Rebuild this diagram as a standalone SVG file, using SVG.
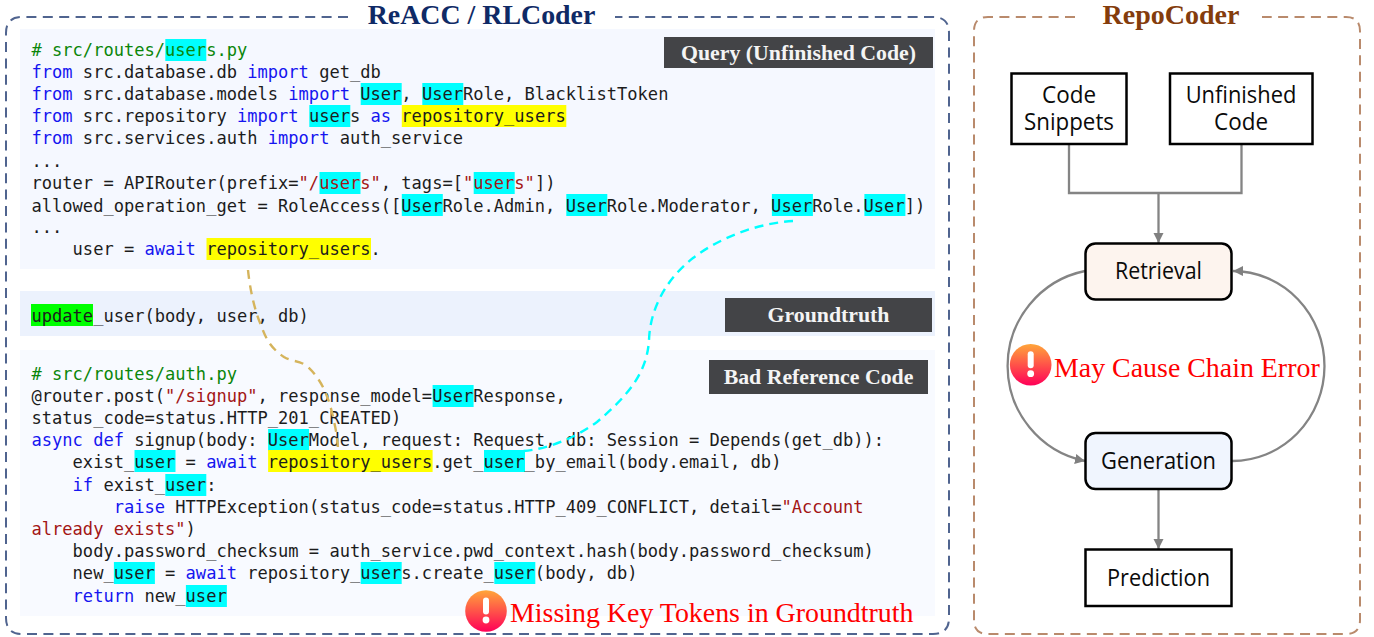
<svg xmlns="http://www.w3.org/2000/svg" width="1374" height="637" viewBox="0 0 1374 637">
<style>
text{white-space:pre}
.c{font-family:"DejaVu Sans Mono",monospace;font-size:17.07px;fill:#1c1c1c}
.k{fill:#1515f0}.g{fill:#0a860a}.r{fill:#a31515}
.cy{fill:#00ffff}.ye{fill:#ffff00}
.lab{fill:#434447}
.lt{font-family:"Liberation Serif",serif;font-weight:bold;font-size:21.8px;fill:#f4f4f4;text-anchor:middle}
.nt{font-family:"Open Sans","Noto Sans",sans-serif;font-size:23.5px;fill:#0a0a0a;text-anchor:middle}
.box{stroke:#000;stroke-width:2.5;fill:#fff}
.con{fill:none;stroke:#848484;stroke-width:2.3}
.warn{font-family:"Liberation Serif",serif;fill:#ff0000;font-size:27.9px}
</style>
<defs>
<linearGradient id="ag" x1="0" y1="0" x2="0" y2="1"><stop offset="0" stop-color="#ffa63a"/><stop offset="1" stop-color="#ff0058"/></linearGradient>
<marker id="ah" markerUnits="userSpaceOnUse" markerWidth="12" markerHeight="12" refX="10" refY="5" orient="auto"><path d="M0 0L10 5L0 10z" fill="#808080"/></marker>
<g id="alert"><circle r="20.8" fill="url(#ag)"/><rect x="-3" y="-13.5" width="6" height="17" rx="3" fill="#fff"/><circle cy="9" r="3.4" fill="#fff"/></g>
</defs>
<rect width="1374" height="637" fill="#fff"/>
<g id="reacc-frame">
<path d="M348 17H22Q6 17 6 33V618Q6 634 22 634H933Q949 634 949 618V33Q949 17 933 17H615" fill="none" stroke="#50648f" stroke-width="2" stroke-dasharray="10 6.4"/>
<text x="481.500" y="24" text-anchor="middle" font-family="'Liberation Serif',serif" font-weight="bold" font-size="27.9" fill="#0f2a66">ReACC / RLCoder</text>
</g>
<g id="query-panel">
<rect x="20" y="29" width="915" height="240" fill="#f5f8ff"/>
<rect class="cy" x="165.3" y="39" width="41" height="22"/>
<rect class="cy" x="360.7" y="83" width="41" height="22"/>
<rect class="cy" x="422.3" y="83" width="41" height="22"/>
<rect class="cy" x="309.3" y="105" width="41" height="22"/>
<rect class="ye" x="401.8" y="105" width="164.5" height="22"/>
<rect class="cy" x="319.5" y="172" width="41" height="22"/>
<rect class="cy" x="473.7" y="172" width="41" height="22"/>
<rect class="cy" x="401.8" y="194" width="41" height="22"/>
<rect class="cy" x="566.3" y="194" width="41" height="22"/>
<rect class="cy" x="771.9" y="194" width="41" height="22"/>
<rect class="cy" x="864.4" y="194" width="41" height="22"/>
<rect class="ye" x="206.5" y="238" width="164.5" height="22"/>
<text class="c g" x="31.5" y="56.2"># src/routes/users.py</text>
<text class="c" x="31.5" y="78.2"><tspan class="k">from</tspan> src.database.db <tspan class="k">import</tspan> get_db</text>
<text class="c" x="31.5" y="99.7"><tspan class="k">from</tspan> src.database.models <tspan class="k">import</tspan> User, UserRole, BlacklistToken</text>
<text class="c" x="31.5" y="122.2"><tspan class="k">from</tspan> src.repository <tspan class="k">import</tspan> users <tspan class="k">as</tspan> repository_users</text>
<text class="c" x="31.5" y="143.7"><tspan class="k">from</tspan> src.services.auth <tspan class="k">import</tspan> auth_service</text>
<text class="c" x="31.5" y="166.7">...</text>
<text class="c" x="31.5" y="189.2">router = APIRouter(prefix=<tspan class="r">"/users"</tspan>, tags=[<tspan class="r">"users"</tspan>])</text>
<text class="c" x="31.5" y="211.7">allowed_operation_get = RoleAccess([UserRole.Admin, UserRole.Moderator, UserRole.User])</text>
<text class="c" x="31.5" y="232.7">...</text>
<text class="c" x="31.5" y="254.7">    user = <tspan class="k">await</tspan> repository_users.</text>
<rect class="lab" x="664" y="37" width="269" height="31"/>
<text class="lt" x="798.5" y="60">Query (Unfinished Code)</text>
</g>
<g id="groundtruth-panel">
<rect x="20" y="291" width="915" height="45" fill="#ecf2fd"/>
<rect x="31" y="304" width="62" height="22" fill="#00ff00"/>
<text class="c" x="31.5" y="321.7">update_user(body, user, db)</text>
<rect class="lab" x="725" y="298" width="207" height="34"/>
<text class="lt" x="828.5" y="322">Groundtruth</text>
</g>
<g id="bad-reference-panel">
<rect x="20" y="350" width="915" height="266" fill="#f8faff"/>
<rect class="cy" x="432.6" y="385" width="41" height="22"/>
<rect class="cy" x="268.1" y="429" width="41" height="22"/>
<rect class="cy" x="134.5" y="450" width="41" height="22"/>
<rect class="ye" x="268.1" y="450" width="164.5" height="22"/>
<rect class="cy" x="484" y="450" width="41" height="22"/>
<rect class="cy" x="165.3" y="474" width="41" height="22"/>
<rect class="cy" x="113.9" y="562" width="41" height="22"/>
<rect class="cy" x="360.7" y="562" width="41" height="22"/>
<rect class="cy" x="494.3" y="562" width="41" height="22"/>
<rect class="cy" x="185.9" y="585" width="41" height="22"/>
<text class="c g" x="31.5" y="379.7"># src/routes/auth.py</text>
<text class="c" x="31.5" y="401.7">@router.post(<tspan class="r">"/signup"</tspan>, response_model=UserResponse,</text>
<text class="c" x="31.5" y="423.7">status_code=status.HTTP_201_CREATED)</text>
<text class="c" x="31.5" y="445.7"><tspan class="k">async def</tspan> signup(body: UserModel, request: Request, db: Session = Depends(get_db)):</text>
<text class="c" x="31.5" y="467.7">    exist_user = <tspan class="k">await</tspan> repository_users.get_user_by_email(body.email, db)</text>
<text class="c" x="31.5" y="491.2">    <tspan class="k">if</tspan> exist_user:</text>
<text class="c" x="31.5" y="513.2">        <tspan class="k">raise</tspan> HTTPException(status_code=status.HTTP_409_CONFLICT, detail=<tspan class="r">"Account</tspan></text>
<text class="c r" x="31.5" y="534.7">already exists"<tspan style="fill:#1c1c1c">)</tspan></text>
<text class="c" x="31.5" y="556.7">    body.password_checksum = auth_service.pwd_context.hash(body.password_checksum)</text>
<text class="c" x="31.5" y="578.7">    new_user = <tspan class="k">await</tspan> repository_users.create_user(body, db)</text>
<text class="c" x="31.5" y="602.2">    <tspan class="k">return</tspan> new_user</text>
<rect class="lab" x="709" y="360" width="219" height="34"/>
<text class="lt" x="818.5" y="384">Bad Reference Code</text>
</g>
<g id="reference-links" fill="none" stroke-width="2.4">
<path d="M248 270C250 290 255 312 261 325C266 340 272 349 284 357C292 362 300 360 308 367C322 380 329 398 333 417C336 430 338 440 338 452" stroke="#d5b45c" stroke-dasharray="9 6.500"/>
<path d="M793 221C760 223 722 236 693 258C665 280 650 310 649 340C647 375 625 398 597 422C575 438 548 449 523 451" stroke="#00ffff" stroke-dasharray="9 6"/>
</g>
<g id="missing-tokens">
<use href="#alert" x="486" y="611"/>
<text class="warn" x="510" y="621.500">Missing Key Tokens in Groundtruth</text>
</g>
<g id="repocoder-frame">
<path d="M1075 17H988Q974 17 974 31V620Q974 634 988 634H1346Q1360 634 1360 620V31Q1360 17 1346 17H1262" fill="none" stroke="#b98a6c" stroke-width="2" stroke-dasharray="10 6.400"/>
<text x="1171" y="23.500" text-anchor="middle" font-family="'Liberation Serif',serif" font-weight="bold" font-size="28" fill="#843c0c">RepoCoder</text>
</g>
<g id="connectors">
<path class="con" d="M1069 144V193H1241.500V144"/>
<path class="con" d="M1158.500 193V243" marker-end="url(#ah)"/>
<path class="con" d="M1085 271A97 97 0 0 0 1085 461" marker-end="url(#ah)"/>
<path class="con" d="M1232 461A92 95 0 0 0 1233 271" marker-end="url(#ah)"/>
<path class="con" d="M1158.500 489V549" marker-end="url(#ah)"/>
</g>
<g id="code-snippets"><rect class="box" x="1011.500" y="73.500" width="115" height="70.500"/><text class="nt" x="1069" y="102.700" textLength="54" lengthAdjust="spacingAndGlyphs">Code</text><text class="nt" x="1069" y="130" textLength="90" lengthAdjust="spacingAndGlyphs">Snippets</text></g>
<g id="unfinished-code"><rect class="box" x="1170" y="73.500" width="142.500" height="70.500"/><text class="nt" x="1241" y="102.700" textLength="110.700" lengthAdjust="spacingAndGlyphs">Unfinished</text><text class="nt" x="1241" y="130" textLength="54" lengthAdjust="spacingAndGlyphs">Code</text></g>
<g id="retrieval"><rect class="box" x="1085.500" y="243.500" width="146" height="56" rx="10" style="fill:#fdf4ee"/><text class="nt" x="1158.500" y="278.500" textLength="87" lengthAdjust="spacingAndGlyphs">Retrieval</text></g>
<g id="generation"><rect class="box" x="1085.500" y="433" width="146" height="56" rx="10" style="fill:#f0f5fe"/><text class="nt" x="1158.500" y="468.500" textLength="115" lengthAdjust="spacingAndGlyphs">Generation</text></g>
<g id="prediction"><rect class="box" x="1085.500" y="549.500" width="146" height="56.500"/><text class="nt" x="1158.500" y="585.700" textLength="103" lengthAdjust="spacingAndGlyphs">Prediction</text></g>
<g id="chain-error">
<use href="#alert" x="1030.700" y="364.700"/>
<text class="warn" x="1054" y="377">May Cause Chain Error</text>
</g>
</svg>
